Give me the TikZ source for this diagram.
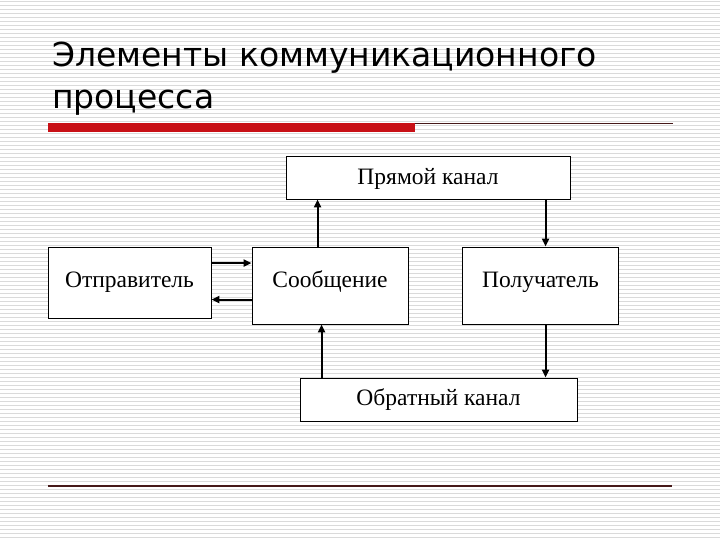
\documentclass[tikz,border=0pt]{standalone}
\usepackage{fontspec}
\setmainfont{Liberation Serif}
\newfontfamily\titlefont{DejaVu Sans}
\usetikzlibrary{arrows.meta}
\definecolor{stripe}{RGB}{218,218,218}
\definecolor{barred}{RGB}{200,16,22}
\definecolor{rulebrown}{RGB}{70,25,25}
\tikzset{
  box/.style={draw=black, line width=0.9pt, fill=white, inner sep=0pt,
    font=\fontsize{23.5}{26}\selectfont, text height=15.5pt},
  conn/.style={line width=2pt, -{Triangle[length=8pt,width=7pt]}},
}
\begin{document}
\begin{tikzpicture}[x=1pt,y=-1pt]
\useasboundingbox (0,0) rectangle (720,540);
\fill[white] (0,0) rectangle (720,540);
\foreach \k in {0,...,134} {
  \draw[stripe, line width=1.3pt] (0,{1.5+4*\k}) -- (720,{1.5+4*\k});
}
% title
\node[anchor=base west, inner sep=0pt, font=\titlefont\fontsize{33}{42}\selectfont] (title) at (52,67)
  {Элементы коммуникационного};
\node[anchor=base west, inner sep=0pt, font=\titlefont\fontsize{33}{42}\selectfont] (title2) at (52,109)
  {процесса};
\fill[barred] (48,123) rectangle (415,132);
\draw[rulebrown, line width=0.9pt] (415,123.5) -- (673,123.5);
\draw[rulebrown, line width=1.3pt] (48,486) -- (672,486);
% boxes
\node[box, text depth=2pt, minimum width=284pt, minimum height=43pt] (pk) at (428,177.5) {Прямой канал};
\node[box, text depth=6pt, minimum width=163pt, minimum height=71pt] (snd) at (129.5,282.5) {Отправитель};
\node[box, text depth=12pt, minimum width=156pt, minimum height=77pt] (msg) at (330,285.5) {Сообщение};
\node[box, text depth=12pt, minimum width=156pt, minimum height=77pt] (rcv) at (540.5,285.5) {Получатель};
\node[box, text depth=4pt, minimum width=277pt, minimum height=43pt] (ok) at (438.5,399.5) {Обратный канал};
% connectors
\draw[conn] (msg.south west |- msg.north) ++(66,0) coordinate (a1) -- (a1 |- pk.south);
\draw[conn] (pk.south west) ++(260,0) coordinate (a2) -- (a2 |- rcv.north);
\draw[conn] (rcv.south west) ++(83.5,0) coordinate (a3) -- (a3 |- ok.north);
\draw[conn] (ok.north west) ++(22,0) coordinate (a4) -- (a4 |- msg.south);
\draw[conn] (snd.north east) ++(0,16.5) coordinate (a5) -- (a5 -| msg.west);
\draw[conn] (msg.north west) ++(0,53) coordinate (a6) -- (a6 -| snd.east);
\end{tikzpicture}
\end{document}
